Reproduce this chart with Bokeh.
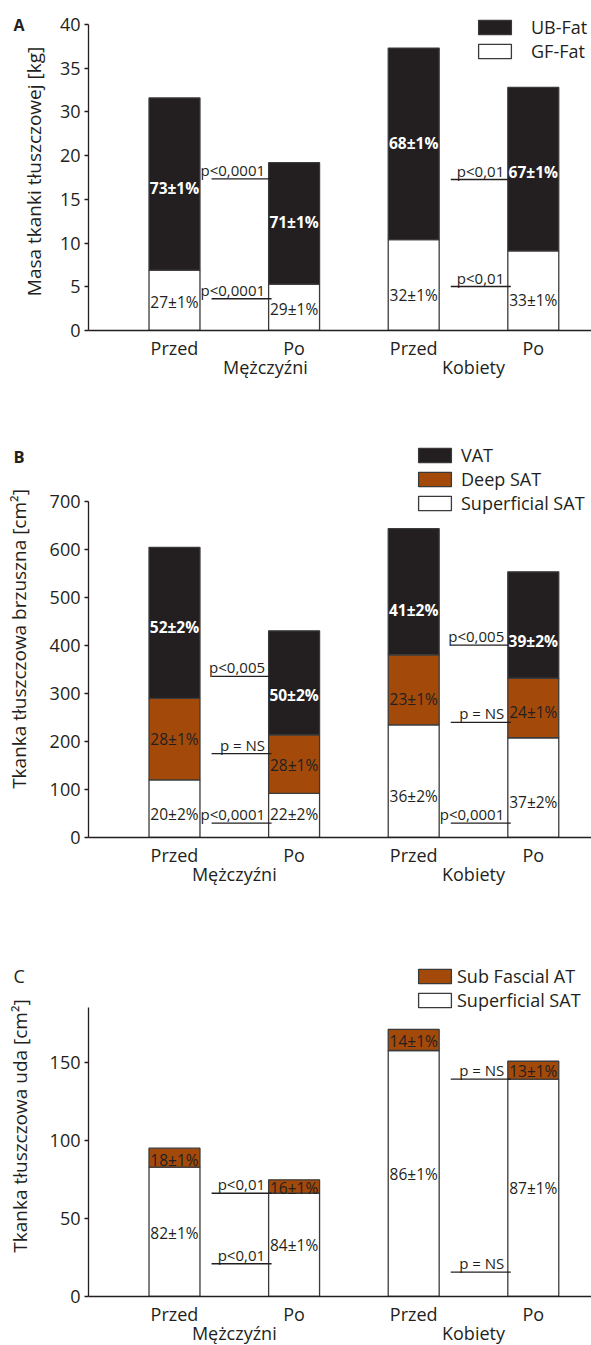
from bokeh.plotting import figure
from bokeh.models import (ColumnDataSource, FixedTicker, LinearAxis, Legend,
                          LegendItem, Range1d)
from bokeh.layouts import column
from bokeh.embed import file_html
from bokeh.resources import INLINE
from bokeh.core.properties import value

FONT = "Open Sans"
INK = "#231f20"
BLACK = "#231f20"
BROWN = "#a34a0b"
WHITE = "#ffffff"
EDGE = "#3a3a3a"

# ---------------- data ----------------
bar_x = [1, 2, 3, 4]
bar_labels = ["Przed", "Po", "Przed", "Po"]
group_labels = ["Mężczyźni", "Kobiety"]

# Panel A  (kg)
a_gf = [6.9, 5.3, 10.4, 9.1]
a_ub = [19.7, 13.9, 21.9, 18.7]
a_gf_pct = ["27±1%", "29±1%", "32±1%", "33±1%"]
a_ub_pct = ["73±1%", "71±1%", "68±1%", "67±1%"]
a_gf_pct_y = [3.3, 2.5, 4.1, 3.5]
a_ub_pct_y = [16.3, 12.4, 21.5, 18.1]
a_tick_labels = ["0", "5", "10", "15", "20", "30", "35", "40"]
a_p_text = ["p<0,0001", "p<0,0001", "p<0,01", "p<0,01"]
a_p_y = [17.35, 3.63, 17.27, 5.03]
a_p_bar = [2, 2, 4, 4]

# Panel B  (cm2)
b_sup = [120, 92, 235, 208]
b_deep = [170, 122, 146, 124]
b_vat = [315, 217, 263, 222]
b_sup_pct = ["20±2%", "22±2%", "36±2%", "37±2%"]
b_deep_pct = ["28±1%", "28±1%", "23±1%", "24±1%"]
b_vat_pct = ["52±2%", "50±2%", "41±2%", "39±2%"]
b_sup_pct_y = [50, 50, 87, 74]
b_deep_pct_y = [205, 151, 289, 261]
b_vat_pct_y = [438, 297, 474, 410]
b_tick_labels = ["0", "100", "200", "300", "400", "500", "600", "700"]
b_p_text = ["p<0,005", "p = NS", "p<0,0001", "p<0,005", "p = NS", "p<0,0001"]
b_p_y = [336, 175, 30, 401, 240, 30]
b_p_bar = [2, 2, 2, 4, 4, 4]

# Panel C  (cm2)
c_sup = [82.9, 66.2, 157.7, 139.3]
c_sub = [12.2, 8.6, 13.5, 11.5]
c_sub_pct = ["18±1%", "16±1%", "14±1%", "13±1%"]
c_sup_pct = ["82±1%", "84±1%", "86±1%", "87±1%"]
c_sub_pct_y = [87.6, 69.7, 163.7, 144.4]
c_sup_pct_y = [40.8, 33.1, 78.7, 69.4]
c_tick_labels = ["0", "50", "100", "150"]
c_p_text = ["p<0,01", "p<0,01", "p = NS", "p = NS"]
c_p_y = [66.2, 21.0, 139.3, 15.6]
c_p_bar = [2, 2, 4, 4]

# ---------------- layout constants ----------------
FRAME_W = 503
X_LEFT = 0.281
PX_PER_X = 119.6
X_RIGHT = X_LEFT + FRAME_W / PX_PER_X
BAR_W = 0.426


def make_panel(letter, letter_style, letter_size, letter_standoff, stacks,
               legend_order, pct_sets, p_text, p_y, p_bar, p_dy, y_end, y_top,
               tick_step, tick_labels, frame_h, mbt, mbb, ytitle, ytitle_standoff,
               group_pos, legend_xy, legend_standoff):
    p = figure(title=letter, frame_width=FRAME_W, frame_height=frame_h,
               x_range=Range1d(X_LEFT, X_RIGHT), y_range=Range1d(0, y_end),
               output_backend="svg", toolbar_location=None,
               min_border_left=88, min_border_right=0,
               min_border_top=mbt, min_border_bottom=mbb)
    p.outline_line_color = None
    p.grid.visible = False
    p.background_fill_color = "white"

    # panel letter
    p.title.align = "left"
    p.title.offset = -75
    p.title.standoff = letter_standoff
    p.title.text_font = FONT
    p.title.text_font_size = letter_size
    p.title.text_font_style = letter_style
    p.title.text_color = INK

    data = dict(x=bar_x)
    for name, vals, _ in stacks:
        data[name] = vals
    src = ColumnDataSource(data)
    rends = p.vbar_stack([s[0] for s in stacks], x="x", width=BAR_W, source=src,
                         fill_color=[s[2] for s in stacks], line_color=EDGE,
                         line_width=1.3)
    rmap = {s[0]: r for s, r in zip(stacks, rends)}

    # significance lines + labels
    x0 = [b - 0.69 for b in p_bar]
    x1 = [b - BAR_W / 2 + 0.025 for b in p_bar]
    psrc = ColumnDataSource(dict(x0=x0, x1=x1, y=p_y, text=p_text,
                                 tx=[b - BAR_W / 2 - 0.03 for b in p_bar]))
    p.segment(x0="x0", y0="y", x1="x1", y1="y", source=psrc,
              line_color=INK, line_width=1.3)
    p.text(x="tx", y="y", text="text", source=psrc, text_align="right",
           text_baseline="alphabetic", y_offset=p_dy, text_color=INK,
           text_font=value(FONT), text_font_size="15px")

    # percentage labels
    for texts, ys, color, style in pct_sets:
        s = ColumnDataSource(dict(x=bar_x, y=ys, text=texts))
        p.text(x="x", y="y", text="text", source=s, text_align="center",
               text_baseline="middle", text_color=color,
               text_font=value(FONT), text_font_size="15.5px",
               text_font_style=style)

    # y axis
    ya = p.yaxis[0]
    ticks = [i * tick_step for i in range(len(tick_labels))]
    ya.ticker = FixedTicker(ticks=ticks)
    ya.major_label_overrides = {t: l for t, l in zip(ticks, tick_labels)}
    ya.bounds = (0, y_top)
    ya.axis_line_color = INK
    ya.axis_line_width = 1.3
    ya.major_tick_line_color = INK
    ya.major_tick_line_width = 1.3
    ya.major_tick_out = 4
    ya.major_tick_in = 0
    ya.minor_tick_line_color = None
    ya.major_label_standoff = 4
    ya.major_label_text_font = FONT
    ya.major_label_text_font_size = "18px"
    ya.major_label_text_color = INK
    ya.axis_label = ytitle
    ya.axis_label_text_font = FONT
    ya.axis_label_text_font_size = "19px"
    ya.axis_label_text_font_style = "normal"
    ya.axis_label_text_color = INK
    ya.axis_label_standoff = ytitle_standoff

    # x axis (bar labels)
    xa = p.xaxis[0]
    xa.ticker = FixedTicker(ticks=bar_x)
    xa.major_label_overrides = {t: l for t, l in zip(bar_x, bar_labels)}
    xa.axis_line_color = INK
    xa.axis_line_width = 1.3
    xa.major_tick_line_color = None
    xa.minor_tick_line_color = None
    xa.major_label_standoff = -1
    xa.major_label_text_font = FONT
    xa.major_label_text_font_size = "18px"
    xa.major_label_text_color = INK

    # second x axis (group labels)
    ga = LinearAxis(ticker=FixedTicker(ticks=group_pos),
                    major_label_overrides={g: l for g, l in zip(group_pos, group_labels)})
    ga.axis_line_color = None
    ga.major_tick_line_color = None
    ga.minor_tick_line_color = None
    ga.major_label_standoff = -14
    ga.major_label_text_font = FONT
    ga.major_label_text_font_size = "18px"
    ga.major_label_text_color = INK
    p.add_layout(ga, "below")

    # legend
    items = [LegendItem(label=n, renderers=[rmap[n]]) for n in legend_order]
    leg = Legend(items=items, location=legend_xy, orientation="vertical",
                 border_line_color=None, background_fill_alpha=0,
                 padding=0, margin=0, spacing=0,
                 glyph_width=41, glyph_height=18, label_height=24,
                 label_standoff=legend_standoff, label_text_font=FONT,
                 label_text_font_size="18px", label_text_color=INK)
    p.add_layout(leg)
    return p


pA = make_panel(
    "A", "bold", "16px", -46,
    [("GF-Fat", a_gf, WHITE), ("UB-Fat", a_ub, BLACK)],
    ["UB-Fat", "GF-Fat"],
    [(a_gf_pct, a_gf_pct_y, INK, "normal"), (a_ub_pct, a_ub_pct_y, "white", "bold")],
    a_p_text, a_p_y, a_p_bar, -9,
    318 / 8.743, 35, 5, a_tick_labels,
    318, 12, 70, "Masa tkanki tłuszczowej [kg]", 10, [1.76, 3.5],
    (386, 267.25), 16)

pB = make_panel(
    "B", "bold", "16.5px", -54,
    [("Superficial SAT", b_sup, WHITE), ("Deep SAT", b_deep, BROWN), ("VAT", b_vat, BLACK)],
    ["VAT", "Deep SAT", "Superficial SAT"],
    [(b_sup_pct, b_sup_pct_y, INK, "normal"), (b_deep_pct, b_deep_pct_y, INK, "normal"),
     (b_vat_pct, b_vat_pct_y, "white", "bold")],
    b_p_text, b_p_y, b_p_bar, -9,
    397 / 0.4796, 700, 100, b_tick_labels,
    397, 40, 93, "Tkanka tłuszczowa brzuszna [cm²]", 15, [1.5, 3.5],
    (326, 322.45), 6)

pC = make_panel(
    "C", "normal", "18px", -65,
    [("Superficial SAT", c_sup, WHITE), ("Sub Fascial AT", c_sub, BROWN)],
    ["Sub Fascial AT", "Superficial SAT"],
    [(c_sup_pct, c_sup_pct_y, INK, "normal"), (c_sub_pct, c_sub_pct_y, INK, "normal")],
    c_p_text, c_p_y, c_p_bar, -9,
    341 / 1.56, 185.4, 50, c_tick_labels,
    341, 25, 49, "Tkanka tłuszczowa uda [cm²]", 14, [1.5, 3.5],
    (326, 284.25), 2)

layout = column(pA, pB, pC)
open("out.html", "w").write(file_html(layout, INLINE))
